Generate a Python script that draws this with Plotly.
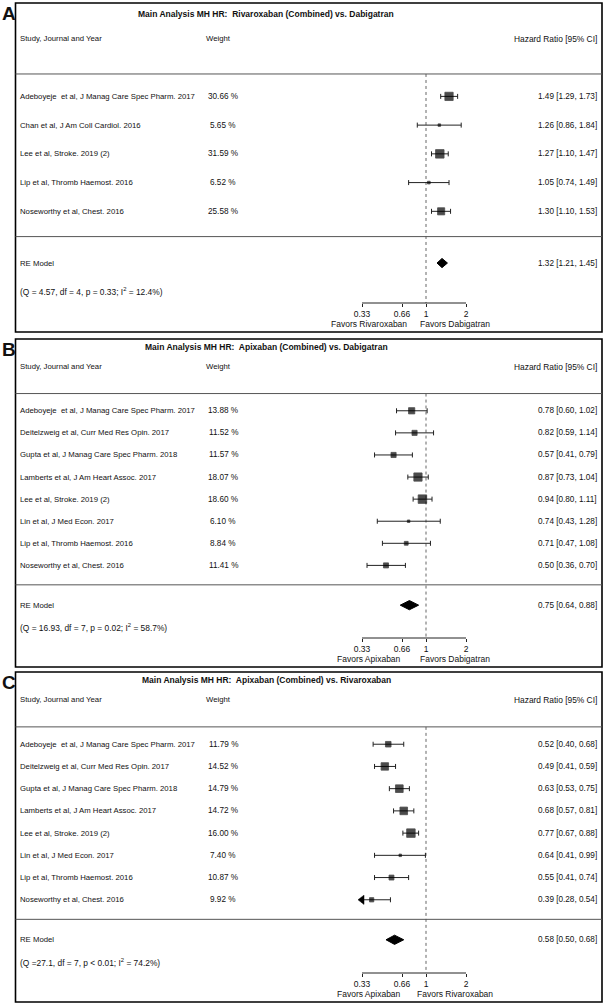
import math
import plotly.graph_objects as go

W, H = 605, 1007

# ---------------- data ----------------
studies_A = ["Adeboyeje\u00a0 et al, J Manag Care Spec Pharm. 2017",
             "Chan et al, J Am Coll Cardiol. 2016",
             "Lee et al, Stroke. 2019 (2)",
             "Lip et al, Thromb Haemost. 2016",
             "Noseworthy et al, Chest. 2016"]
weights_A = [30.66, 5.65, 31.59, 6.52, 25.58]
hr_A = [1.49, 1.26, 1.27, 1.05, 1.30]
lo_A = [1.29, 0.86, 1.10, 0.74, 1.10]
hi_A = [1.73, 1.84, 1.47, 1.49, 1.53]
re_A = [1.32, 1.21, 1.45]
het_A = "(Q = 4.57, df = 4, p = 0.33; I<sup>2</sup> = 12.4%)"
title_A = "Main Analysis MH HR:\u00a0 Rivaroxaban (Combined) vs. Dabigatran"
favors_A = ["Favors Rivaroxaban", "Favors Dabigatran"]

studies_B = ["Adeboyeje\u00a0 et al, J Manag Care Spec Pharm. 2017",
             "Deitelzweig et al, Curr Med Res Opin. 2017",
             "Gupta et al, J Manag Care Spec Pharm. 2018",
             "Lamberts et al, J Am Heart Assoc. 2017",
             "Lee et al, Stroke. 2019 (2)",
             "Lin et al, J Med Econ. 2017",
             "Lip et al, Thromb Haemost. 2016",
             "Noseworthy et al, Chest. 2016"]
weights_B = [13.88, 11.52, 11.57, 18.07, 18.60, 6.10, 8.84, 11.41]
hr_B = [0.78, 0.82, 0.57, 0.87, 0.94, 0.74, 0.71, 0.50]
lo_B = [0.60, 0.59, 0.41, 0.73, 0.80, 0.43, 0.47, 0.36]
hi_B = [1.02, 1.14, 0.79, 1.04, 1.11, 1.28, 1.08, 0.70]
re_B = [0.75, 0.64, 0.88]
het_B = "(Q = 16.93, df = 7, p = 0.02; I<sup>2</sup> = 58.7%)"
title_B = "Main Analysis MH HR:\u00a0 Apixaban (Combined) vs. Dabigatran"
favors_B = ["Favors Apixaban", "Favors Dabigatran"]

studies_C = list(studies_B)
weights_C = [11.79, 14.52, 14.79, 14.72, 16.00, 7.40, 10.87, 9.92]
hr_C = [0.52, 0.49, 0.63, 0.68, 0.77, 0.64, 0.55, 0.39]
lo_C = [0.40, 0.41, 0.53, 0.57, 0.67, 0.41, 0.41, 0.28]
hi_C = [0.68, 0.59, 0.75, 0.81, 0.88, 0.99, 0.74, 0.54]
re_C = [0.58, 0.50, 0.68]
het_C = "(Q =27.1, df = 7, p &lt; 0.01; I<sup>2</sup> = 74.2%)"
title_C = "Main Analysis MH HR:\u00a0 Apixaban (Combined) vs. Rivaroxaban"
favors_C = ["Favors Apixaban", "Favors Rivaroxaban"]

letters = ["A", "B", "C"]
tick_vals = [0.33, 0.66, 1, 2]
tick_text = ["0.33", "0.66", "1", "2"]
axis_lim = [0.33, 2]

# ---------------- layout parameters ----------------
FONT = "Liberation Sans, Arial, sans-serif"
X_ONE = 426.0          # pixel of HR = 1
PX_DEC = 132.9         # pixels per decade
BOX_L, BOX_R = 15.5, 602.0
COL_STUDY, COL_WH, COL_W, COL_HR = 18.0, 218.0, 223.0, 599.0
TXT = 7.75
NUM = 8.2

panels = [
    dict(letter=letters[0], title=title_A, studies=studies_A, w=weights_A, hr=hr_A, lo=lo_A, hi=hi_A,
         re=re_A, het=het_A, fav=favors_A, top=3, bottom=332, ylim=(-3.2, 8.25)),
    dict(letter=letters[1], title=title_B, studies=studies_B, w=weights_B, hr=hr_B, lo=lo_B, hi=hi_B,
         re=re_B, het=het_B, fav=favors_B, top=339, bottom=667, ylim=(-3.6, 11.25)),
    dict(letter=letters[2], title=title_C, studies=studies_C, w=weights_C, hr=hr_C, lo=lo_C, hi=hi_C,
         re=re_C, het=het_C, fav=favors_C, top=672, bottom=1002, ylim=(-3.6, 11.25)),
]

xr = [(0 - X_ONE) / PX_DEC, (W - X_ONE) / PX_DEC]

def px(x):
    return x / W

def py(y):
    return 1 - y / H

fig = go.Figure()
annotations = []
shapes = []
layout_axes = {}

for i, p in enumerate(panels):
    n = i + 1
    xa = "x" if n == 1 else f"x{n}"
    ya = "y" if n == 1 else f"y{n}"
    yref = ya
    k = len(p["studies"])
    rows = list(range(k, 0, -1))
    y0, y1 = p["ylim"]
    ppr = (p["bottom"] - p["top"]) / (y1 - y0)   # pixels per row
    axis_px = p["bottom"] - 29
    r_axis = y0 + 29 / ppr
    r_top_line = k + 0.78
    r_bot_line = 0.12
    r_re = -0.8
    r_het = -1.8

    layout_axes["xaxis" if n == 1 else f"xaxis{n}"] = dict(
        type="log", range=xr, domain=[0, 1], anchor="free", position=py(axis_px),
        tickvals=tick_vals, ticktext=tick_text, ticks="outside", ticklen=3, tickwidth=1,
        tickcolor="#222", showgrid=False, zeroline=False, showline=False,
        tickfont=dict(family=FONT, size=8.5, color="#111"), fixedrange=True)
    layout_axes["yaxis" if n == 1 else f"yaxis{n}"] = dict(
        range=[y0, y1], domain=[py(p["bottom"]), py(p["top"])], visible=False,
        fixedrange=True, anchor=xa)

    # reference line at HR = 1
    fig.add_trace(go.Scatter(x=[1, 1], y=[r_top_line, r_axis], mode="lines",
                             line=dict(color="#666", width=1, dash="dot"),
                             xaxis=xa, yaxis=ya, hoverinfo="skip", showlegend=False))
    # axis line limited to tick range
    fig.add_trace(go.Scatter(x=axis_lim, y=[r_axis, r_axis], mode="lines",
                             line=dict(color="#222", width=1),
                             xaxis=xa, yaxis=ya, hoverinfo="skip", showlegend=False))

    # study estimates with CIs (clip at axis limits)
    wmin, wmax = min(p["w"]), max(p["w"])
    sizes = [2.5 + 6.0 * (w - wmin) / (wmax - wmin) for w in p["w"]]
    lo_c = [max(l, axis_lim[0]) for l in p["lo"]]
    hi_c = [min(h, axis_lim[1]) for h in p["hi"]]
    fig.add_trace(go.Scatter(
        x=p["hr"], y=rows, mode="markers",
        marker=dict(symbol="square", size=sizes, color="black", line=dict(width=0.8, color="black")),
        error_x=dict(type="data", symmetric=False,
                     array=[h - e for h, e in zip(hi_c, p["hr"])],
                     arrayminus=[e - l for e, l in zip(p["hr"], lo_c)],
                     color="#222", thickness=1, width=2.5),
        xaxis=xa, yaxis=ya, hoverinfo="skip", showlegend=False))
    # arrows for clipped CIs
    clip_x = [axis_lim[0] for l in p["lo"] if l < axis_lim[0]]
    clip_y = [r for l, r in zip(p["lo"], rows) if l < axis_lim[0]]
    if clip_x:
        fig.add_trace(go.Scatter(x=clip_x, y=clip_y, mode="markers",
                                 marker=dict(symbol="triangle-left", size=8, color="black",
                                             line=dict(width=0.5, color="black")),
                                 xaxis=xa, yaxis=ya, hoverinfo="skip", showlegend=False))

    # summary diamond
    est, lo, hi = p["re"]
    h = 4.6 / ppr
    fig.add_trace(go.Scatter(x=[lo, est, hi, est, lo], y=[r_re, r_re + h, r_re, r_re - h, r_re],
                             mode="lines", fill="toself", fillcolor="black",
                             line=dict(color="black", width=1),
                             xaxis=xa, yaxis=ya, hoverinfo="skip", showlegend=False))

    # box
    shapes.append(dict(type="rect", xref="paper", yref="paper",
                       x0=px(BOX_L), x1=px(BOX_R), y0=py(p["bottom"]), y1=py(p["top"]),
                       line=dict(color="black", width=1.6)))
    # separators
    for r in (r_top_line, r_bot_line):
        shapes.append(dict(type="line", xref="paper", yref=yref, x0=px(BOX_L), x1=px(BOX_R),
                           y0=r, y1=r, line=dict(color="#555", width=1)))

    def ann(text, x, y, xanchor="left", size=TXT, bold=False, yr=yref, **kw):
        d = dict(text=f"<b>{text}</b>" if bold else text, x=px(x), y=y, xref="paper", yref=yr,
                 xanchor=xanchor, yanchor="middle", showarrow=False,
                 font=dict(family=FONT, size=size, color="#111"))
        d.update(kw)
        annotations.append(d)

    # panel letter
    ann(p["letter"], 0.0, py(p["top"] + 10), size=19, bold=True, yr="paper")
    ann(p["title"], 266, k + 2.88, xanchor="center", size=8.5, bold=True)
    ann("Study, Journal and Year", COL_STUDY, k + 2.0)
    ann("Weight", COL_WH, k + 2.0, xanchor="center")
    ann("Hazard Ratio [95% CI]", COL_HR, k + 2.0, xanchor="right", size=8.4)
    for s, w, e, l, hh, r in zip(p["studies"], p["w"], p["hr"], p["lo"], p["hi"], rows):
        ann(s, COL_STUDY, r)
        ann(f"{w:.2f} %", COL_W, r, xanchor="center", size=NUM)
        ann(f"{e:.2f} [{l:.2f}, {hh:.2f}]", COL_HR, r, xanchor="right", size=NUM)
    ann("RE Model", COL_STUDY, r_re)
    ann(f"{est:.2f} [{lo:.2f}, {hi:.2f}]", COL_HR, r_re, xanchor="right", size=NUM)
    ann(p["het"], COL_STUDY, r_het, size=8.4)
    ann(p["fav"][0], 369, py(axis_px + 21), xanchor="center", size=8.5, yr="paper")
    ann(p["fav"][1], 455, py(axis_px + 21), xanchor="center", size=8.5, yr="paper")

fig.update_layout(
    width=W, height=H, margin=dict(l=0, r=0, t=0, b=0),
    paper_bgcolor="white", plot_bgcolor="rgba(0,0,0,0)",
    annotations=annotations, shapes=shapes, showlegend=False, hovermode=False,
    **layout_axes)

fig.write_html("out.html", config={"displayModeBar": False, "staticPlot": True},
               post_script="document.body.style.margin='0';document.body.style.overflow='hidden';")
